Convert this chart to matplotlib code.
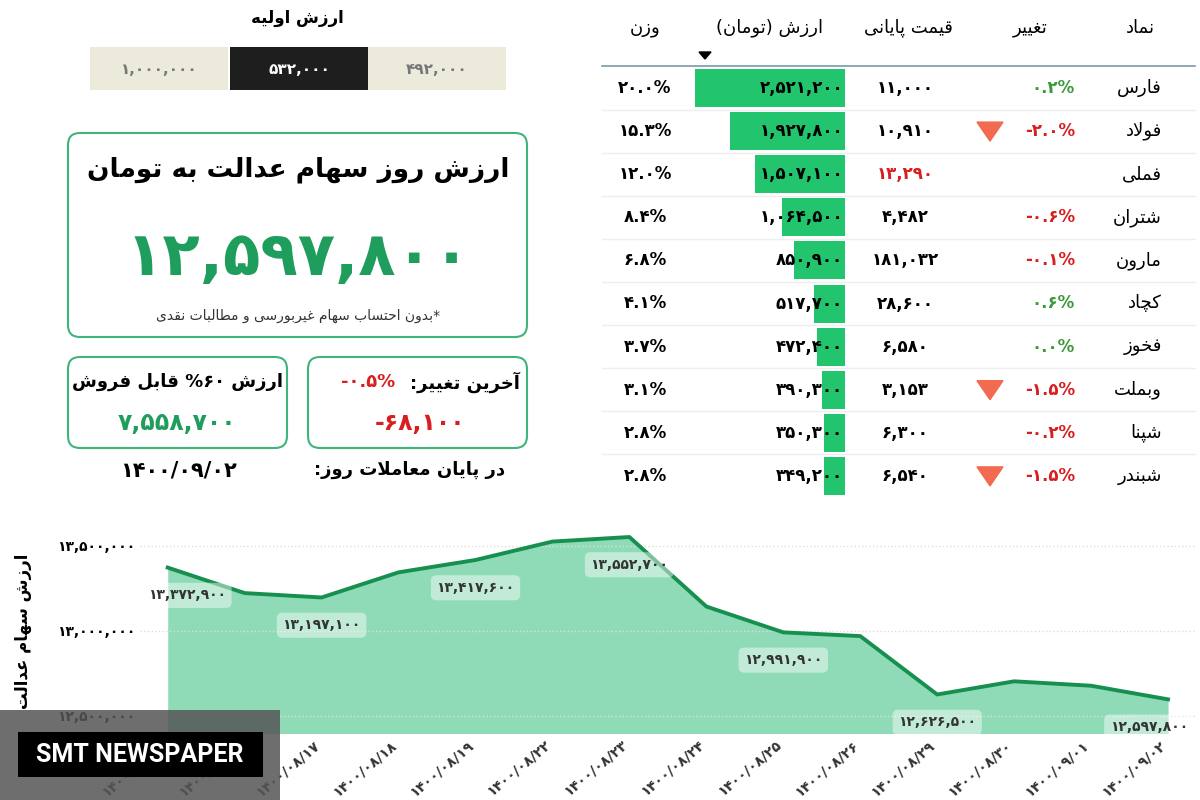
import re, unicodedata
import matplotlib
matplotlib.use("Agg")
import matplotlib.pyplot as plt
from matplotlib.patches import Rectangle, FancyBboxPatch, Polygon

# ---- data ----
symbols = ["فارس", "فولاد", "فملی", "شتران", "مارون", "کچاد", "فخوز", "وبملت", "شپنا", "شبندر"]
changes = [0.2, -2.0, None, -0.6, -0.1, 0.6, 0.0, -1.5, -0.2, -1.5]
down_arrow = [False, True, False, False, False, False, False, True, False, True]
close_price = [11000, 10910, 13290, 4482, 181032, 28600, 6580, 3153, 6300, 6540]
close_red = [False, False, True, False, False, False, False, False, False, False]
value_toman = [2521200, 1927800, 1507100, 1064500, 850900, 517700, 472400, 390300, 350300, 349200]
weight_pct = [20.0, 15.3, 12.0, 8.4, 6.8, 4.1, 3.7, 3.1, 2.8, 2.8]

initial_values = [1000000, 532000, 492000]
total_value = 12597800
sellable_60 = 7558700
last_change_pct = -0.5
last_change_abs = -68100
report_date = "1400/09/02"

dates = ["1400/08/15", "1400/08/16", "1400/08/17", "1400/08/18", "1400/08/19", "1400/08/22",
         "1400/08/23", "1400/08/24", "1400/08/25", "1400/08/26", "1400/08/29", "1400/08/30",
         "1400/09/01", "1400/09/02"]
daily_value = [13372900, 13223000, 13197100, 13345000, 13417600, 13526000, 13552700,
               13144000, 12991900, 12970000, 12626500, 12704000, 12678000, 12597800]
labeled = [0, 2, 4, 6, 8, 10, 13]
yticks = [12500000, 13000000, 13500000]

# ---- persian text helpers ----
RIGHT_ONLY = set("اآدذرزژو")


def is_ar(c):
    return ("\u0620" <= c <= "\u064A") or c in "پچژکگیآ"


def fa(s):
    return str(s).translate(str.maketrans("0123456789", "۰۱۲۳۴۵۶۷۸۹"))


def shape(txt):
    res = []
    chars = list(txt)
    n = len(chars)
    i = 0
    while i < n:
        c = chars[i]
        if not is_ar(c):
            res.append(c); i += 1; continue
        prev = chars[i - 1] if i > 0 else ""
        nxt = chars[i + 1] if i + 1 < n else ""
        jp = bool(prev) and is_ar(prev) and prev not in RIGHT_ONLY
        if c == "ل" and nxt in ("ا", "آ") and nxt:
            res.append(unicodedata.lookup("ARABIC LIGATURE LAM WITH ALEF " + ("FINAL" if jp else "ISOLATED") + " FORM"))
            i += 2; continue
        jn = bool(nxt) and is_ar(nxt) and c not in RIGHT_ONLY
        form = "MEDIAL" if jp and jn else "FINAL" if jp else "INITIAL" if jn else "ISOLATED"
        try:
            res.append(unicodedata.lookup(unicodedata.name(c) + " " + form + " FORM"))
        except KeyError:
            res.append(c)
        i += 1
    return "".join(res)


def rtl(txt):
    txt = fa(txt)
    if not any(is_ar(c) for c in txt):
        return txt
    s = shape(txt)
    toks = re.findall(r"[۰-۹0-9,./]+|[^۰-۹0-9,./]+", s)
    out = []
    for t in reversed(toks):
        if re.match(r"[۰-۹0-9,./]", t):
            out.append(t)
        else:
            out.append(t[::-1].translate(str.maketrans("()", ")(")))
    return "".join(out)


def num(v):
    return fa(f"{v:,}")


FONT = "DejaVu Sans"
plt.rcParams["font.family"] = FONT
GREEN = "#1f9d5c"
BAR = "#22c46e"
RED = "#d81e1e"

fig = plt.figure(figsize=(12, 8), dpi=100)
ov = fig.add_axes([0, 0, 1, 1], zorder=0)
ov.set_xlim(0, 1200); ov.set_ylim(800, 0); ov.axis("off")

# ---- table ----
hdr_y = 28
ov.text(1140, hdr_y, rtl("نماد"), ha="center", va="center", fontsize=13)
ov.text(1030, hdr_y, rtl("تغییر"), ha="center", va="center", fontsize=13)
ov.text(908, hdr_y, rtl("قیمت پایانی"), ha="center", va="center", fontsize=13)
ov.text(770, hdr_y, rtl("ارزش (تومان)"), ha="center", va="center", fontsize=13)
ov.text(645, hdr_y, rtl("وزن"), ha="center", va="center", fontsize=13)
ov.add_patch(Polygon([[699, 52], [711, 52], [705, 59]], color="black"))
ov.plot([602, 1195], [66, 66], color="#7a9aa8", lw=1.2)
row_h = 43.1
scale = 150 / max(value_toman)
for i in range(len(symbols)):
    yc = 88 + i * row_h
    if i > 0:
        ov.plot([602, 1195], [yc - row_h / 2] * 2, color="#eeeeee", lw=1)
    w = value_toman[i] * scale
    ov.add_patch(Rectangle((845 - w, yc - 19), w, 38, color=BAR, lw=0))
    ov.text(843, yc, num(value_toman[i]), ha="right", va="center", fontsize=12, fontweight="bold")
    ov.text(645, yc, fa(f"{weight_pct[i]:.1f}%"), ha="center", va="center", fontsize=12, fontweight="bold")
    ov.text(905, yc, num(close_price[i]), ha="center", va="center", fontsize=12, fontweight="bold",
            color=RED if close_red[i] else "black")
    if changes[i] is not None:
        col = "#3a9a3a" if changes[i] >= 0 else RED
        ov.text(1075, yc, fa(f"{changes[i]:.1f}%"), ha="right", va="center", fontsize=12,
                fontweight="bold", color=col)
    if down_arrow[i]:
        ov.add_patch(Polygon([[977, yc - 9], [1003, yc - 9], [990, yc + 10]], color="#f26b50"))
    ov.text(1162, yc, rtl(symbols[i]), ha="right", va="center", fontsize=13)

# ---- left panel ----
ov.text(297, 18, rtl("ارزش اولیه"), ha="center", va="center", fontsize=12, fontweight="bold")
box_x = [90, 230, 368]
box_fc = ["#ecebdb", "#1e1e1e", "#ecebdb"]
box_tc = ["#777777", "white", "#777777"]
for j, v in enumerate(initial_values):
    ov.add_patch(Rectangle((box_x[j], 47), 138, 43, color=box_fc[j], lw=0))
    ov.text(box_x[j] + 69, 69, num(v), ha="center", va="center", fontsize=11,
            color=box_tc[j], fontweight="bold")

def rbox(x0, y0, x1, y1):
    ov.add_patch(FancyBboxPatch((x0, y0), x1 - x0, y1 - y0, boxstyle="round,pad=0,rounding_size=12",
                                fc="white", ec="#3fb57a", lw=1.5))

rbox(68, 133, 527, 337)
ov.text(298, 170, rtl("ارزش روز سهام عدالت به تومان"), ha="center", va="center", fontsize=19, fontweight="bold")
ov.text(298, 258, num(total_value), ha="center", va="center", fontsize=44, fontweight="bold", color=GREEN)
ov.text(298, 316, rtl("*بدون احتساب سهام غیربورسی و مطالبات نقدی"), ha="center", va="center", fontsize=10, color="#333333")

rbox(68, 357, 287, 448)
rbox(308, 357, 527, 448)
ov.text(177, 382, rtl("ارزش ۶۰% قابل فروش"), ha="center", va="center", fontsize=13, fontweight="bold")
ov.text(177, 423, num(sellable_60), ha="center", va="center", fontsize=17, fontweight="bold", color=GREEN)
ov.text(520, 382, rtl("آخرین تغییر:"), ha="right", va="center", fontsize=13, fontweight="bold")
ov.text(395, 382, fa(f"{last_change_pct:.1f}%"), ha="right", va="center", fontsize=13, fontweight="bold", color=RED)
ov.text(420, 423, num(last_change_abs), ha="center", va="center", fontsize=17, fontweight="bold", color=RED)
ov.text(178, 470, fa(report_date), ha="center", va="center", fontsize=15, fontweight="bold")
ov.text(505, 470, rtl("در پایان معاملات روز:"), ha="right", va="center", fontsize=13, fontweight="bold")

# ---- area chart ----
ax = fig.add_axes([140 / 1200, 67 / 800, 1055 / 1200, 203 / 800], zorder=1)
ax.patch.set_alpha(0)
xs = list(range(len(daily_value)))
ax.fill_between(xs, daily_value, 12000000, color="#8fdbb8", lw=0)
ax.plot(xs, daily_value, color="#17904f", lw=2.8)
ax.set_xlim(-0.36, 13.35)
ax.set_ylim(12400000, 13594000)
ax.set_yticks(yticks)
ax.set_yticklabels([num(v) for v in yticks], fontsize=10, fontweight="bold")
ax.set_xticks(xs)
ax.set_xticklabels([fa(d) for d in dates], rotation=40, ha="right", fontsize=10, fontweight="bold",
                   color="#333333")
ax.grid(axis="y", color="#dddddd", ls=":", lw=1)
for s in ax.spines.values():
    s.set_visible(False)
ax.tick_params(length=0)
ax.set_ylabel(rtl("ارزش سهام عدالت"), fontsize=12, fontweight="bold", labelpad=18)
for k in labeled:
    off = 0.25 if k == 0 else (-0.25 if k == len(xs) - 1 else 0)
    ax.annotate(num(daily_value[k]), (xs[k] + off, daily_value[k]), xytext=(0, -20),
                textcoords="offset points", ha="center", va="center", fontsize=10, fontweight="bold",
                color="#333333", bbox=dict(boxstyle="round,pad=0.4", fc="white", ec="none", alpha=0.45))

# ---- watermark ----
wm = fig.add_axes([0, 0, 1, 1], zorder=2)
wm.set_xlim(0, 1200); wm.set_ylim(800, 0); wm.axis("off")
wm.add_patch(Rectangle((0, 710), 280, 90, color="#555555", alpha=0.85, lw=0))
wm.add_patch(Rectangle((18, 732), 245, 45, color="black", lw=0))
wm.text(140, 755, "SMT NEWSPAPER", ha="center", va="center", fontsize=18, fontweight="bold",
        color="white", family="Roboto")

fig.savefig("out.png", dpi=100, facecolor="white")
